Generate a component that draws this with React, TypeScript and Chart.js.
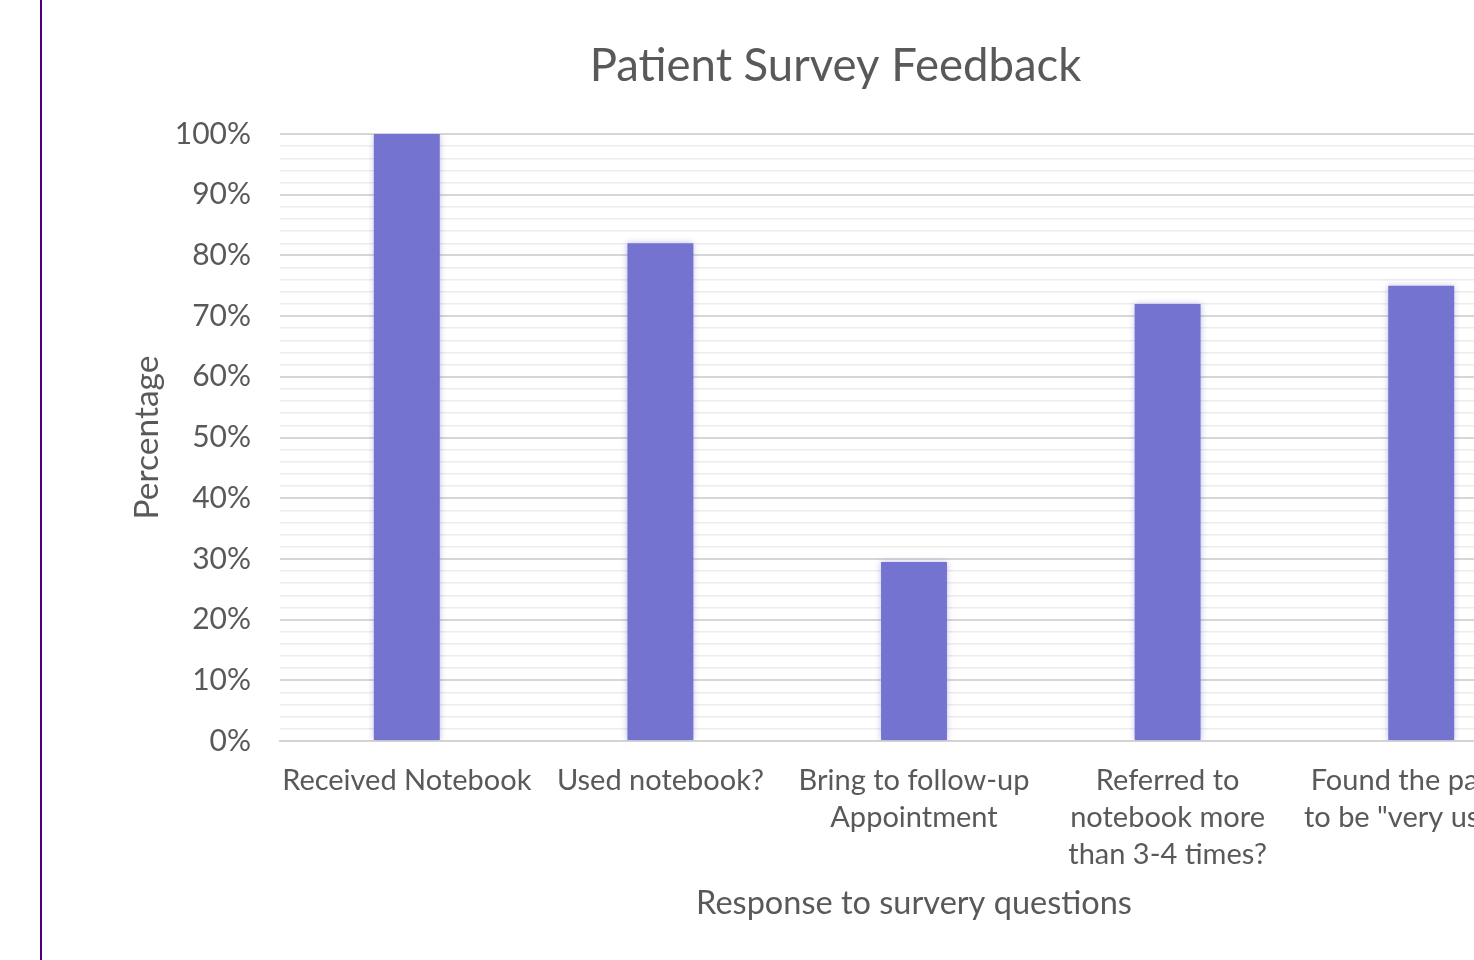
import React, { useEffect, useRef } from "react";
import { Chart, registerables } from "chart.js";

Chart.register(...registerables);

const categories: (string | string[])[] = [
  ["Received Notebook"],
  ["Used notebook?"],
  ["Bring to follow-up", "Appointment"],
  ["Referred to", "notebook more", "than 3-4 times?"],
  ["Found the packet", "to be \"very useful\""],
];
const percentages = [100, 82, 29.5, 72, 75];
const chartTitle = "Patient Survey Feedback";
const yAxisTitle = "Percentage";
const xAxisTitle = "Response to survery questions";

const FONT = "Lato, 'Noto Sans', sans-serif";
const TEXT = "#595959";

const glowPlugin = {
  id: "barGlow",
  beforeDatasetsDraw(chart: any) {
    const ctx = chart.ctx;
    ctx.save();
    ctx.shadowColor = "rgba(116,116,208,0.45)";
    ctx.shadowBlur = 6;
  },
  afterDatasetsDraw(chart: any) {
    chart.ctx.restore();
  },
};

export default function App() {
  const ref = useRef<HTMLCanvasElement | null>(null);
  useEffect(() => {
    if (!ref.current) return;
    const chart = new Chart(ref.current, {
      type: "bar",
      data: {
        labels: categories,
        datasets: [
          {
            data: percentages,
            backgroundColor: "#7474D0",
            borderWidth: 0,
            barPercentage: 0.26,
            categoryPercentage: 1,
          },
        ],
      },
      plugins: [glowPlugin],
      options: {
        responsive: false,
        animation: false,
        layout: { padding: { left: 81, right: 78, top: 0, bottom: 37 } },
        plugins: {
          legend: { display: false },
          tooltip: { enabled: false },
          title: {
            display: true,
            text: chartTitle,
            color: TEXT,
            font: { family: FONT, size: 45.5, weight: "normal", lineHeight: 1.2 },
            padding: { top: 38.7, bottom: 40.7 },
          },
        },
        scales: {
          x: {
            afterFit(scale: any) {
              scale.height = 182;
            },
            grid: { display: false, drawTicks: false },
            border: { display: true, color: "#d4d4d4", width: 2 },
            ticks: {
              color: TEXT,
              font: { family: FONT, size: 29, lineHeight: 1.276 },
              padding: 21.5,
              maxRotation: 0,
              autoSkip: false,
            },
            title: {
              display: true,
              text: xAxisTitle,
              color: TEXT,
              font: { family: FONT, size: 32.5, lineHeight: 1.2 },
              padding: { top: 10, bottom: 0 },
            },
          },
          y: {
            min: 0,
            max: 100,
            afterFit(scale: any) {
              scale.width = 157;
            },
            border: { display: false },
            grid: {
              drawTicks: false,
              color: (c: any) =>
                c.tick && c.tick.value % 10 === 0 ? "#d6d6d6" : "#ececec",
              lineWidth: (c: any) =>
                c.tick && c.tick.value % 10 === 0 ? 2 : 1.5,
            },
            ticks: {
              stepSize: 2,
              autoSkip: false,
              color: TEXT,
              padding: 29,
              font: { family: FONT, size: 30 },
              callback: (v: any) => (Number(v) % 10 === 0 ? `${v}%` : ""),
            },
            title: {
              display: true,
              text: yAxisTitle,
              color: TEXT,
              font: { family: FONT, size: 33.5, lineHeight: 1.2 },
              padding: { top: 4, bottom: 4 },
            },
          },
        },
      },
    });
    return () => chart.destroy();
  }, []);

  return (
    <div
      style={{
        position: "fixed",
        left: 0,
        top: 0,
        width: 1474,
        height: 960,
        overflow: "hidden",
        background: "#ffffff",
      }}
    >
      <div
        style={{
          position: "absolute",
          left: 40,
          top: 0,
          width: 2,
          height: 960,
          background: "#4B0082",
        }}
      />
      <canvas
        ref={ref}
        width={1584}
        height={960}
        style={{ position: "absolute", left: 42, top: 0, display: "block" }}
      />
    </div>
  );
}
